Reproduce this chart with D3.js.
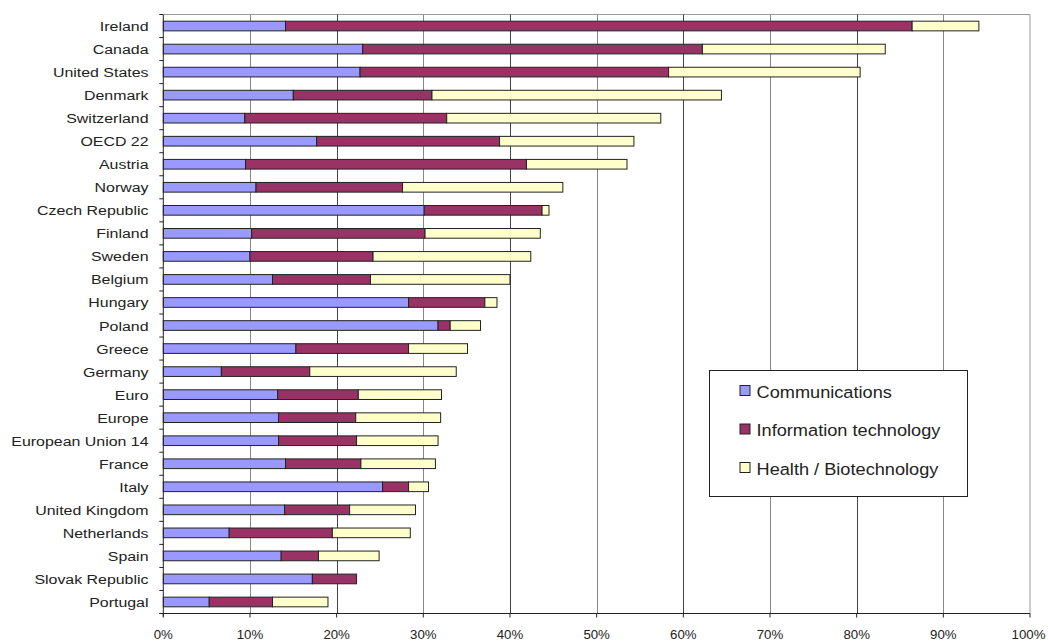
<!DOCTYPE html>
<html>
<head>
<meta charset="utf-8">
<script src="https://cdn.jsdelivr.net/npm/d3@7"></script>
<style>
    body { margin: 0; background: #fff; }
    svg { display: block; font-family: 'Liberation Sans', Arial, sans-serif; }
</style>
</head>
<body>
<div id="chart"></div>
<script>
const countries = ['Ireland', 'Canada', 'United States', 'Denmark', 'Switzerland', 'OECD 22', 'Austria',
    'Norway', 'Czech Republic', 'Finland', 'Sweden', 'Belgium', 'Hungary', 'Poland', 'Greece', 'Germany',
    'Euro', 'Europe', 'European Union 14', 'France', 'Italy', 'United Kingdom', 'Netherlands', 'Spain',
    'Slovak Republic', 'Portugal'];

const communications = [14.1, 23.0, 22.7, 15.0, 9.4, 17.7, 9.5, 10.7, 30.1, 10.2, 10.0, 12.6, 28.3, 31.7,
    15.3, 6.7, 13.2, 13.3, 13.3, 14.1, 25.3, 14.0, 7.6, 13.6, 17.2, 5.3];
const infoTech = [72.3, 39.2, 35.6, 16.0, 23.3, 21.1, 32.4, 16.9, 13.6, 20.0, 14.2, 11.3, 8.8, 1.4,
    13.0, 10.2, 9.3, 8.9, 9.0, 8.7, 3.0, 7.5, 11.9, 4.3, 5.1, 7.3];
const healthBio = [7.7, 21.1, 22.1, 33.4, 24.7, 15.5, 11.6, 18.5, 0.8, 13.3, 18.2, 16.1, 1.4, 3.5,
    6.8, 16.9, 9.6, 9.8, 9.4, 8.6, 2.3, 7.6, 9.0, 7.0, 0, 6.4];

const seriesNames = ['Communications', 'Information technology', 'Health / Biotechnology'];
const seriesColors = ['#9999ff', '#993366', '#ffffcc'];
const xTicks = [0, 10, 20, 30, 40, 50, 60, 70, 80, 90, 100];

const width = 1048;
const height = 641;

const rows = countries.map((c, i) => ({
    country: c,
    'Communications': communications[i],
    'Information technology': infoTech[i],
    'Health / Biotechnology': healthBio[i]
}));

const stacked = d3.stack().keys(seriesNames)(rows);

const svg = d3.select('#chart').append('svg')
    .attr('width', width)
    .attr('height', height);

const x = d3.scaleLinear().domain([0, 100]).range([163.3, 1030]);
const y = d3.scaleBand()
    .domain(countries)
    .range([14.5, 613.5])
    .paddingInner(0.58)
    .paddingOuter(0.29);

// frame top / right
svg.append('path')
    .attr('d', `M${x(0)},${y.range()[0]}H${x(100)}V${y.range()[1]}`)
    .attr('fill', 'none')
    .attr('stroke', '#999')
    .attr('stroke-width', 1);

// vertical gridlines
svg.append('g')
    .selectAll('line')
    .data(xTicks.filter(t => t > 0 && t < 100))
    .enter()
    .append('line')
    .attr('x1', d => Math.round(x(d)) + 0.5)
    .attr('x2', d => Math.round(x(d)) + 0.5)
    .attr('y1', y.range()[0])
    .attr('y2', y.range()[1])
    .attr('stroke', (d, i) => i % 2 === 0 ? '#888' : '#444')
    .attr('stroke-width', 1);

// bars
svg.append('g')
    .selectAll('g')
    .data(stacked)
    .enter()
    .append('g')
    .attr('fill', (d, i) => seriesColors[i])
    .selectAll('rect')
    .data(d => d.filter(s => s[1] - s[0] > 0))
    .enter()
    .append('rect')
    .attr('x', d => x(d[0]))
    .attr('y', d => y(d.data.country))
    .attr('width', d => x(d[1]) - x(d[0]))
    .attr('height', y.bandwidth())
    .attr('stroke', '#222')
    .attr('stroke-width', 1);

// left axis with ticks between categories
const leftAxis = svg.append('g');
leftAxis.append('line')
    .attr('x1', x(0)).attr('x2', x(0))
    .attr('y1', y.range()[0]).attr('y2', y.range()[1] + 3)
    .attr('stroke', '#222');
leftAxis.selectAll('line.tick')
    .data(d3.range(countries.length + 1))
    .enter()
    .append('line')
    .attr('class', 'tick')
    .attr('x1', x(0) - 4).attr('x2', x(0))
    .attr('y1', i => y.range()[0] + i * y.step())
    .attr('y2', i => y.range()[0] + i * y.step())
    .attr('stroke', '#222');

leftAxis.selectAll('text')
    .data(countries)
    .enter()
    .append('text')
    .text(d => d)
    .attr('text-anchor', 'end')
    .attr('font-size', '13.5px')
    .attr('fill', '#222')
    .attr('transform', d => `translate(148.5,${y(d) + y.bandwidth() / 2 + 5}) scale(1.18,1)`);

// bottom axis
const bottomAxis = svg.append('g');
bottomAxis.append('line')
    .attr('x1', x(0) - 4).attr('x2', x(100))
    .attr('y1', y.range()[1]).attr('y2', y.range()[1])
    .attr('stroke', '#222');
bottomAxis.selectAll('line.tick')
    .data(xTicks)
    .enter()
    .append('line')
    .attr('class', 'tick')
    .attr('x1', d => x(d)).attr('x2', d => x(d))
    .attr('y1', y.range()[1]).attr('y2', y.range()[1] + 4)
    .attr('stroke', '#222');
bottomAxis.selectAll('text')
    .data(xTicks)
    .enter()
    .append('text')
    .text(d => d + '%')
    .attr('text-anchor', 'middle')
    .attr('font-size', '12.5px')
    .attr('fill', '#222')
    .attr('transform', d => `translate(${d === 100 ? x(d) - 1.5 : x(d)},638.5) scale(1.06,1)`);

// legend
const legend = svg.append('g');
legend.append('rect')
    .attr('x', 709.5).attr('y', 370.5)
    .attr('width', 258).attr('height', 126)
    .attr('fill', '#fff')
    .attr('stroke', '#222')
    .attr('stroke-width', 1);

const item = legend.selectAll('g')
    .data(seriesNames)
    .enter()
    .append('g')
    .attr('transform', (d, i) => `translate(740,${385.5 + i * 38.5})`);

item.append('rect')
    .attr('width', 10).attr('height', 10)
    .attr('fill', (d, i) => seriesColors[i])
    .attr('stroke', '#222')
    .attr('stroke-width', 1);

item.append('text')
    .text(d => d)
    .attr('font-size', '17px')
    .attr('fill', '#222')
    .attr('transform', 'translate(16.5,12) scale(1.07,1)');
</script>
</body>
</html>
